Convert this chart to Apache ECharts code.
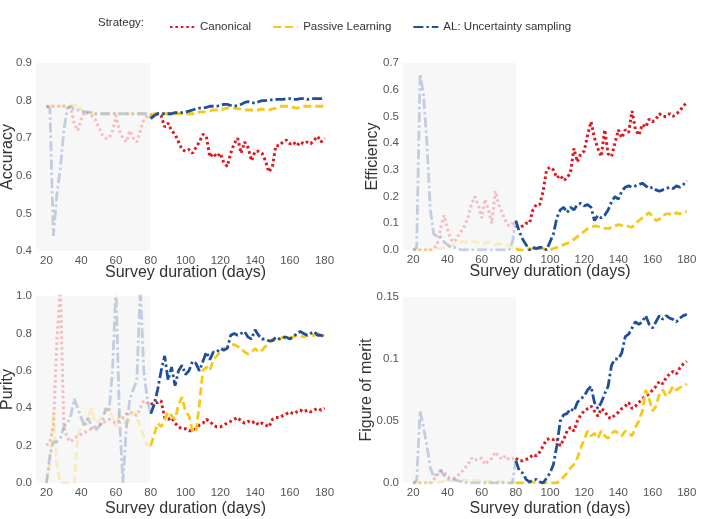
<!DOCTYPE html>
<html><head><meta charset="utf-8">
<script src="https://cdn.jsdelivr.net/npm/echarts@6/dist/echarts.min.js"></script>
<style>html,body{margin:0;padding:0;background:#fff}#c{width:706px;height:519px}</style>
</head><body><div id="c"></div>
<script>
const days = [20,22,24,26,28,30,32,34,36,38,40,42,44,46,48,50,52,54,56,58,60,62,64,66,68,70,72,74,76,78,80,
82,84,86,88,90,92,94,96,98,100,102,104,106,108,110,112,114,116,118,120,122,124,126,128,130,132,134,136,138,140,
142,144,146,148,150,152,154,156,158,160,162,164,166,168,170,172,174,176,178,180];
const xTicks = [20,40,60,80,100,120,140,160,180];
const strategies = ['Canonical','Passive Learning','AL: Uncertainty sampling'];
const panelTitles = ['Accuracy','Efficiency','Purity','Figure of merit'];

// Accuracy
const accCanonical = [0.785,0.785,0.785,0.785,0.785,0.785,0.785,0.78,0.74,0.72,0.75,0.77,0.765,0.76,0.75,0.73,0.71,0.70,0.70,0.72,0.76,0.72,0.70,0.69,0.72,0.70,0.69,0.72,0.75,0.76,0.76,
0.765,0.765,0.76,0.73,0.74,0.72,0.71,0.69,0.67,0.665,0.67,0.66,0.675,0.69,0.71,0.705,0.65,0.66,0.65,0.66,0.635,0.625,0.66,0.685,0.70,0.66,0.69,0.675,0.64,0.665,
0.665,0.66,0.64,0.61,0.625,0.68,0.68,0.69,0.695,0.685,0.69,0.68,0.69,0.685,0.69,0.685,0.695,0.705,0.69,0.70];
const accPassive = [0.785,0.785,0.785,0.785,0.785,0.785,0.79,0.79,0.785,0.79,0.775,0.77,0.77,0.765,0.765,0.765,0.765,0.765,0.765,0.765,0.765,0.765,0.765,0.765,0.765,0.765,0.765,0.765,0.765,0.76,0.76,
0.765,0.765,0.765,0.765,0.765,0.765,0.765,0.765,0.765,0.765,0.765,0.765,0.765,0.77,0.77,0.77,0.772,0.775,0.775,0.775,0.778,0.78,0.78,0.78,0.778,0.778,0.775,0.775,0.775,0.775,
0.775,0.778,0.775,0.775,0.778,0.78,0.785,0.785,0.785,0.785,0.782,0.78,0.782,0.785,0.785,0.785,0.785,0.785,0.785,0.785];
const accAL = [0.785,0.78,0.44,0.55,0.62,0.72,0.78,0.785,0.775,0.775,0.772,0.77,0.77,0.768,0.765,0.765,0.765,0.765,0.765,0.765,0.765,0.765,0.765,0.765,0.765,0.765,0.765,0.765,0.765,0.765,0.752,
0.76,0.765,0.765,0.765,0.765,0.765,0.768,0.768,0.768,0.77,0.772,0.775,0.778,0.78,0.78,0.782,0.785,0.785,0.785,0.787,0.79,0.79,0.787,0.785,0.787,0.79,0.795,0.797,0.795,0.793,
0.797,0.8,0.8,0.802,0.802,0.803,0.803,0.803,0.805,0.805,0.803,0.803,0.805,0.805,0.803,0.805,0.805,0.805,0.805,0.805];

// Efficiency
const effCanonical = [0,0,0,0,0,0,0.005,0.02,0.08,0.13,0.08,0.04,0.03,0.05,0.07,0.09,0.12,0.17,0.2,0.17,0.12,0.19,0.15,0.1,0.22,0.17,0.14,0.11,0.09,0.1,0.09,
0.085,0.09,0.1,0.1,0.15,0.17,0.17,0.22,0.3,0.31,0.3,0.27,0.28,0.26,0.27,0.29,0.38,0.33,0.36,0.37,0.43,0.48,0.42,0.38,0.35,0.45,0.36,0.35,0.40,0.45,
0.42,0.45,0.44,0.52,0.45,0.43,0.47,0.46,0.49,0.48,0.49,0.51,0.5,0.5,0.51,0.5,0.51,0.52,0.54,0.55];
const effPassive = [0,0,0,0,0,0,0,0.005,0.005,0.01,0.01,0.015,0.02,0.025,0.03,0.03,0.03,0.035,0.03,0.03,0.03,0.025,0.03,0.025,0.02,0.025,0.02,0.02,0.015,0.01,0.005,
0,0,0.005,0.005,0.005,0.01,0.005,0.005,0,0,0.005,0.01,0.015,0.02,0.025,0.03,0.04,0.05,0.06,0.07,0.08,0.085,0.09,0.088,0.085,0.082,0.08,0.085,0.09,0.095,
0.092,0.09,0.088,0.085,0.1,0.11,0.12,0.13,0.14,0.125,0.11,0.115,0.13,0.135,0.135,0.13,0.14,0.135,0.14,0.145];
const effAL = [0,0.01,0.66,0.58,0.4,0.15,0.06,0.05,0.05,0.03,0.02,0.01,0.01,0.005,0,0,0,0,0,0,0,0,0,0,0,0,0,0,0,0.03,0.11,
0.07,0.04,0.02,0,0.01,0.005,0.01,0.01,0,0.03,0.06,0.12,0.15,0.16,0.14,0.16,0.15,0.17,0.175,0.165,0.17,0.16,0.11,0.13,0.12,0.13,0.15,0.18,0.2,0.19,
0.22,0.235,0.24,0.235,0.24,0.245,0.25,0.24,0.23,0.235,0.225,0.22,0.225,0.23,0.235,0.23,0.24,0.235,0.245,0.26];

// Purity
const purCanonical = [0.2,0.22,0.3,0.75,1.05,0.3,0.24,0.22,0.24,0.25,0.26,0.27,0.28,0.29,0.3,0.31,0.32,0.33,0.34,0.33,0.32,0.34,0.35,0.37,0.38,0.37,0.36,0.4,0.44,0.43,0.42,
0.43,0.43,0.44,0.35,0.34,0.35,0.32,0.3,0.29,0.29,0.28,0.28,0.29,0.31,0.32,0.34,0.33,0.31,0.3,0.3,0.31,0.32,0.33,0.34,0.35,0.33,0.32,0.33,0.32,0.33,
0.31,0.32,0.31,0.3,0.34,0.35,0.35,0.36,0.37,0.38,0.37,0.38,0.39,0.38,0.39,0.38,0.39,0.4,0.39,0.4];
const purPassive = [0,0.1,0.38,0.1,0,0,0,0,0,0.25,0.3,0.32,0.35,0.4,0.32,0.33,0.36,0.38,0.4,0.35,0.3,0.38,0.35,0.3,0.35,0.38,0.35,0.3,0.25,0.2,0.2,
0.26,0.32,0.3,0.34,0.38,0.36,0.34,0.42,0.46,0.38,0.36,0.28,0.27,0.42,0.6,0.62,0.6,0.66,0.68,0.7,0.72,0.72,0.74,0.74,0.73,0.72,0.7,0.69,0.7,0.72,
0.7,0.71,0.73,0.75,0.77,0.76,0.77,0.78,0.77,0.78,0.78,0.79,0.79,0.78,0.79,0.79,0.79,0.8,0.79,0.79];
const purAL = [0,0.15,0.22,0.22,0.24,0.3,0.32,0.36,0.45,0.4,0.35,0.3,0.35,0.3,0.28,0.3,0.32,0.4,0.38,0.6,1.05,0.35,0,0.3,0.45,0.5,0.55,1.05,0.6,0.45,0.37,
0.42,0.5,0.6,0.68,0.55,0.62,0.52,0.6,0.63,0.58,0.6,0.65,0.64,0.6,0.65,0.7,0.66,0.7,0.7,0.72,0.71,0.72,0.79,0.8,0.79,0.8,0.81,0.78,0.77,0.82,
0.79,0.77,0.77,0.76,0.76,0.78,0.77,0.78,0.78,0.77,0.78,0.8,0.81,0.8,0.79,0.8,0.81,0.79,0.79,0.78];

// Figure of merit
const fomCanonical = [0,0,0,0,0,0,0.003,0.006,0.01,0.009,0.005,0.004,0.004,0.006,0.008,0.012,0.015,0.02,0.018,0.02,0.02,0.015,0.018,0.02,0.025,0.022,0.019,0.022,0.019,0.02,0.02,
0.018,0.018,0.019,0.02,0.023,0.022,0.025,0.03,0.035,0.036,0.035,0.036,0.03,0.035,0.042,0.045,0.042,0.05,0.055,0.058,0.06,0.062,0.058,0.054,0.06,0.058,0.053,0.052,0.055,0.057,
0.06,0.062,0.065,0.06,0.062,0.065,0.068,0.07,0.072,0.075,0.078,0.082,0.08,0.085,0.088,0.09,0.088,0.093,0.096,0.098];
const fomPassive = [0,0,0,0,0,0,0,0,0.001,0.001,0.001,0.002,0.002,0.002,0.002,0.002,0.002,0.002,0.002,0.002,0.002,0.001,0.001,0.001,0.001,0.001,0.001,0.001,0,0,0,
0,0,0,0,0.001,0,0,0,0,0,0,0,0.002,0.005,0.008,0.012,0.015,0.02,0.028,0.035,0.042,0.038,0.04,0.036,0.042,0.038,0.036,0.04,0.042,0.04,
0.038,0.042,0.04,0.038,0.045,0.05,0.058,0.075,0.068,0.058,0.062,0.072,0.075,0.07,0.073,0.078,0.075,0.077,0.078,0.08];
const fomAL = [0,0.002,0.058,0.045,0.03,0.012,0.005,0.008,0.01,0.006,0.003,0.003,0.003,0.002,0.001,0,0,0,0,0,0,0,0,0,0,0,0,0,0,0,0.018,
0.01,0.008,0.003,0.001,0.002,0.003,0.001,0,0.004,0.008,0.015,0.03,0.05,0.055,0.056,0.06,0.058,0.065,0.068,0.07,0.075,0.078,0.065,0.06,0.065,0.072,0.078,0.095,0.1,0.1,
0.105,0.118,0.12,0.125,0.13,0.128,0.13,0.135,0.128,0.125,0.13,0.135,0.132,0.135,0.133,0.132,0.13,0.133,0.135,0.136];

const panelData = [
  [accCanonical, accPassive, accAL],
  [effCanonical, effPassive, effAL],
  [purCanonical, purPassive, purAL],
  [fomCanonical, fomPassive, fomAL]
];
const yRanges = [[0.4,0.9,0.1],[0,0.7,0.1],[0,1.0,0.2],[0,0.15,0.05]];
const splitDay = 80;

const colors = ['#e0161e','#f7c81a','#1f4f9b'];
const dashes = [[2.6,2.8],[8,4],[10,3,2.5,3]];
const widths = [3,2.8,2.8];
const grids = [
  {left:36, top:63, width:299, height:188, outerBoundsMode:'none'},
  {left:403, top:63, width:294, height:187, outerBoundsMode:'none'},
  {left:36, top:296, width:299, height:187, outerBoundsMode:'none'},
  {left:403, top:297, width:294, height:186, outerBoundsMode:'none'}
];
const yNameGaps = [20,22,20,28];
const xNameGaps = [14,14,18,18];
const FONT = '"Liberation Sans", Arial, sans-serif';

function fmtY(p){ return function(v){
  const r = Math.round(v*1000)/1000;
  if (r === 0) return '0.0';
  if (p===3) return String(r);
  return r.toFixed(1);
};}

const xAxes = [], yAxes = [], series = [];
grids.forEach((g,i)=>{
  xAxes.push({type:'value', gridIndex:i, min:14, max:186,
    axisLine:{show:false}, axisTick:{show:false}, splitLine:{show:false},
    axisLabel:{customValues:xTicks, color:'#555', fontSize:11.5, fontFamily:FONT, margin:4},
    name:'Survey duration (days)', nameLocation:'middle', nameGap:xNameGaps[i], nameMoveOverlap:false,
    nameTextStyle:{fontSize:16, color:'#333', fontFamily:FONT, verticalAlign:'top'}});
  const yr = yRanges[i];
  yAxes.push({type:'value', gridIndex:i, min:yr[0], max:yr[1], interval:yr[2],
    axisLine:{show:false}, axisTick:{show:false}, splitLine:{show:false},
    axisLabel:{color:'#555', fontSize:11.5, fontFamily:FONT, margin:4, formatter:fmtY(i)},
    name:panelTitles[i], nameLocation:'middle', nameGap:yNameGaps[i], nameMoveOverlap:false,
    nameTextStyle:{fontSize:16, color:'#333', fontFamily:FONT}});
  // shaded warm-up region
  series.push({type:'line', xAxisIndex:i, yAxisIndex:i, data:[], silent:true,
    markArea:{silent:true, itemStyle:{color:'#f7f7f8'}, data:[[{xAxis:14},{xAxis:splitDay}]]}});
  panelData[i].forEach((vals,s)=>{
    const faded = [], strong = [];
    days.forEach((d,k)=>{
      if (d <= splitDay) faded.push([d, vals[k]]);
      if (d >= splitDay) strong.push([d, vals[k]]);
    });
    series.push({type:'line', name:strategies[s]+' (warm-up)', xAxisIndex:i, yAxisIndex:i, data:faded,
      symbol:'none', silent:true, clip:true,
      lineStyle:{color:colors[s], width:widths[s], type:dashes[s], opacity:0.25, cap:'butt'}, itemStyle:{color:colors[s]}, z:2});
    series.push({type:'line', name:strategies[s], xAxisIndex:i, yAxisIndex:i, data:strong,
      symbol:'none', clip:true,
      lineStyle:{color:colors[s], width:widths[s], type:dashes[s], cap:'butt'}, itemStyle:{color:colors[s]}, z:3+s});
  });
});

const chart = echarts.init(document.getElementById('c'), null, {renderer:'canvas'});
chart.setOption({
  animation:false,
  backgroundColor:'#fff',
  grid: grids,
  xAxis: xAxes,
  yAxis: yAxes,
  legend:{data:strategies, left:164, top:16, itemWidth:25, itemHeight:12, itemGap:21,
    itemStyle:{opacity:0},
    textStyle:{fontSize:11.5, color:'#333', fontFamily:FONT}, selectedMode:false},
  graphic:[{type:'text', left:98, top:17, style:{text:'Strategy:', fill:'#333', font:'11.5px "Liberation Sans", Arial, sans-serif'}}],
  series: series
});
</script></body></html>
